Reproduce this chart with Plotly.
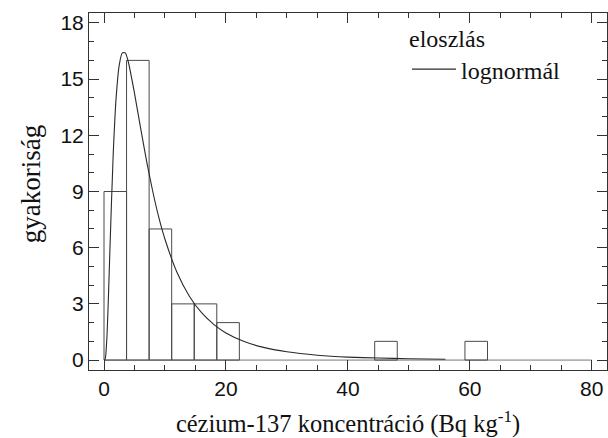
import plotly.graph_objects as go

# histogram data (bin width 3.7)
bin_width = 3.7
bin_left = [0.0, 3.7, 7.4, 11.1, 14.8, 18.5, 44.4, 59.2]
counts = [9, 16, 7, 3, 3, 2, 1, 1]

# fitted lognormal curve
curve_x = [0.12, 0.25, 0.5, 0.75, 1.0, 1.5, 2.0, 2.5, 3.0, 3.5, 4.0, 5.0, 6.0, 7.0, 8.0,
           9.0, 10.0, 12.0, 14.0, 16.0, 18.0, 20.0, 23.0, 26.0, 30.0, 35.0, 40.0, 45.0, 50.0, 56.0]
curve_y = [0.0, 0.15, 1.37, 3.6, 6.2, 10.9, 14.05, 15.75, 16.4, 16.4, 15.9, 14.25, 12.4, 10.6, 9.0,
           7.6, 6.45, 4.66, 3.41, 2.53, 1.91, 1.45, 0.99, 0.69, 0.44, 0.26, 0.16, 0.11, 0.07, 0.04]

x_ticks = [0, 20, 40, 60, 80]
y_ticks = [0, 3, 6, 9, 12, 15, 18]

fig = go.Figure()
fig.add_trace(go.Bar(
    x=[b + bin_width / 2 for b in bin_left], y=counts, width=bin_width,
    marker=dict(color="rgba(0,0,0,0)", line=dict(color="#4a4a4a", width=1)),
    showlegend=False, hoverinfo="skip"))
fig.add_trace(go.Scatter(
    x=curve_x, y=curve_y, mode="lines", name="lognormál",
    line=dict(color="#2a2a2a", width=1.1, shape="spline", smoothing=0.6)))

fig.add_shape(type="line", xref="x", yref="y", x0=0, x1=80, y0=0, y1=0,
              line=dict(color="#777777", width=1), layer="below")

axis_common = dict(showline=True, linecolor="#333333", linewidth=1, mirror="ticks",
                   ticks="inside", ticklen=10, tickcolor="#333333", showgrid=False,
                   zeroline=False, tickfont=dict(family="Liberation Sans, Arial", size=21, color="#111111"))

fig.update_xaxes(range=[-2.46, 82.5], tickvals=x_ticks,
                 minor=dict(ticks="inside", ticklen=5, dtick=5, tickcolor="#333333"),
                 title=dict(text="cézium-137 koncentráció (Bq kg<sup>-1</sup>)",
                            font=dict(family="Liberation Serif, Times New Roman", size=24.5, color="#111111"),
                            standoff=16),
                 **axis_common)
fig.update_yaxes(range=[-0.53, 18.53], tickvals=y_ticks,
                 minor=dict(ticks="inside", ticklen=5, dtick=1, tickcolor="#333333"),
                 **axis_common)

fig.add_annotation(text="gyakoriság", textangle=-90, xref="paper", yref="paper",
                   x=-0.145, y=0.52, showarrow=False,
                   font=dict(family="Liberation Serif, Times New Roman", size=27, color="#111111"))

fig.update_layout(
    width=608, height=438,
    margin=dict(l=89, r=1, t=13, b=68),
    plot_bgcolor="white", paper_bgcolor="white",
    legend=dict(x=0.614, y=0.992, xanchor="left", yanchor="top", bgcolor="rgba(0,0,0,0)",
                title=dict(text="eloszlás", font=dict(family="Liberation Serif, Times New Roman", size=24, color="#111111")),
                font=dict(family="Liberation Serif, Times New Roman", size=24, color="#111111"),
                itemwidth=44),
    showlegend=True,
)

fig.write_html("out.html")
